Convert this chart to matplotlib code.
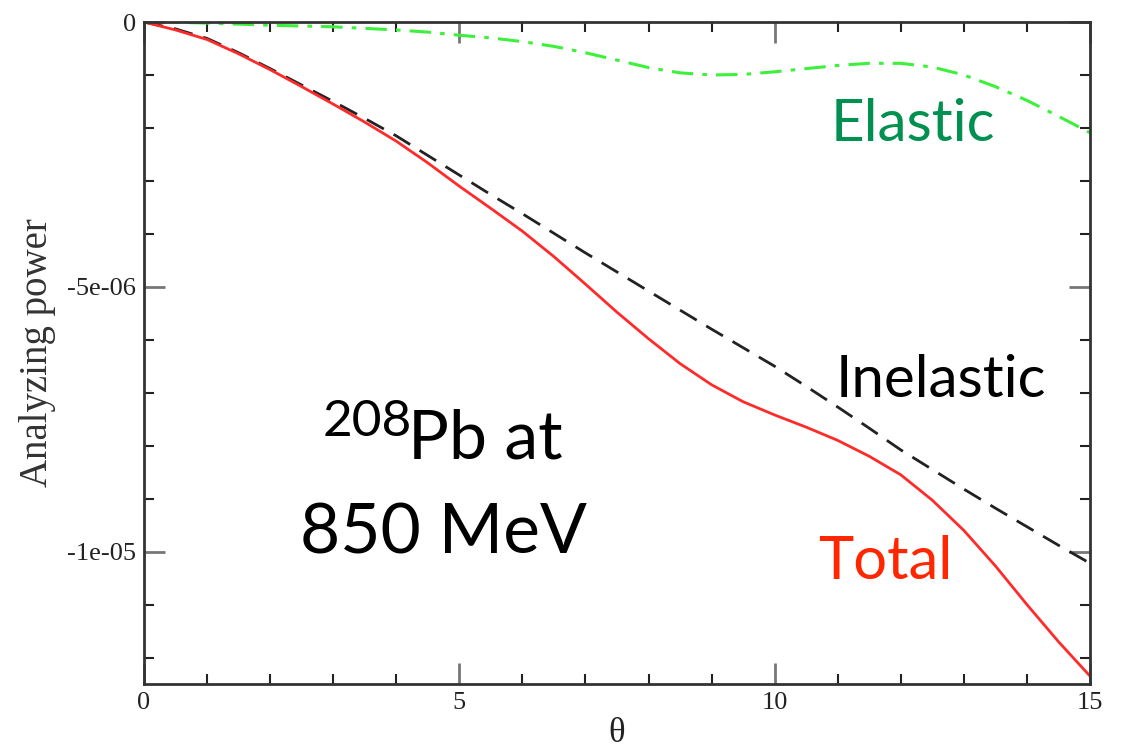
import numpy as np
import matplotlib
matplotlib.use('Agg')
import matplotlib.pyplot as plt
from matplotlib.ticker import MultipleLocator, FixedLocator, FuncFormatter

# scattering angle (deg), sampled every half degree
theta = [0, 0.5, 1, 1.5, 2, 2.5, 3, 3.5, 4, 4.5, 5, 5.5, 6, 6.5, 7, 7.5,
         8, 8.5, 9, 9.5, 10, 10.5, 11, 11.5, 12, 12.5, 13, 13.5, 14, 14.5, 15]

# analyzing power in units of 1e-6
total = [0, -0.15, -0.33, -0.60, -0.90, -1.22, -1.55, -1.89, -2.25, -2.66,
         -3.10, -3.52, -3.95, -4.43, -4.95, -5.48, -5.98, -6.45, -6.85, -7.17,
         -7.42, -7.65, -7.90, -8.20, -8.55, -9.03, -9.60, -10.27, -11.00, -11.70, -12.35]

inelastic = [0, -0.13, -0.31, -0.58, -0.88, -1.19, -1.50, -1.82, -2.15, -2.52,
             -2.89, -3.26, -3.62, -3.99, -4.36, -4.72, -5.08, -5.44, -5.80, -6.15,
             -6.50, -6.88, -7.27, -7.67, -8.08, -8.45, -8.82, -9.18, -9.53, -9.88, -10.22]

elastic = [0, -0.005, -0.02, -0.04, -0.06, -0.075, -0.09, -0.12, -0.15, -0.19,
           -0.25, -0.30, -0.37, -0.46, -0.58, -0.72, -0.86, -0.96, -1.00, -0.99,
           -0.94, -0.88, -0.82, -0.78, -0.78, -0.85, -1.00, -1.22, -1.48, -1.78, -2.09]

scale = 1e-6

fig = plt.figure(figsize=(11.26, 7.49), dpi=100)
ax = fig.add_axes([0.1279, 0.0868, 0.968 - 0.1279, 0.9706 - 0.0868])

ax.plot(theta, np.array(elastic) * scale, color='#3cf03c', lw=2.2, dashes=(7, 3, 1.5, 3))
ax.plot(theta, np.array(inelastic) * scale, color='#222222', lw=2.0, dashes=(7, 4))
ax.plot(theta, np.array(total) * scale, color='#ff2a2a', lw=2.0)

ax.set_xlim(0, 15)
ax.set_ylim(-1.25e-5, 0)

ax.xaxis.set_major_locator(FixedLocator([0, 5, 10, 15]))
ax.xaxis.set_minor_locator(MultipleLocator(1))
ax.yaxis.set_major_locator(FixedLocator([0, -5e-6, -1e-5]))
ax.yaxis.set_minor_locator(MultipleLocator(1e-6))
ylabels = {0: '0', -5: '-5e-06', -10: '-1e-05'}
ax.yaxis.set_major_formatter(FuncFormatter(lambda v, p: ylabels.get(int(round(v * 1e6)), '')))

ax.tick_params(which='both', direction='in', top=True, right=True)
ax.tick_params(which='major', length=15, width=2, color='#777777', labelsize=19,
               labelcolor='#222222', pad=6)
ax.tick_params(which='minor', length=7, width=1.5, color='#222222')
for lab in ax.get_xticklabels() + ax.get_yticklabels():
    lab.set_family('Liberation Serif')
for s in ax.spines.values():
    s.set_linewidth(2)
    s.set_color('#333333')

ax.set_xlabel('θ', family='Liberation Serif', fontsize=25, color='#222222', labelpad=2)
ax.set_ylabel('Analyzing power', family='Liberation Serif', fontsize=28, color='#333333', labelpad=8)

sans = 'Lato'
ax.text(10.88, -2.25e-6, 'Elastic', color='#00904f', fontsize=42, family=sans)
ax.text(10.97, -7.09e-6, 'Inelastic', color='black', fontsize=42, family=sans)
ax.text(10.69, -10.51e-6, 'Total', color='#ff2600', fontsize=43, family=sans)
ax.text(2.84, -7.81e-6, '208', color='black', fontsize=37, family=sans)
ax.text(4.19, -8.24e-6, 'Pb at', color='black', fontsize=49, family=sans)
ax.text(2.47, -10.04e-6, '850 MeV', color='black', fontsize=50, family=sans)

fig.savefig('out.png', dpi=100)
